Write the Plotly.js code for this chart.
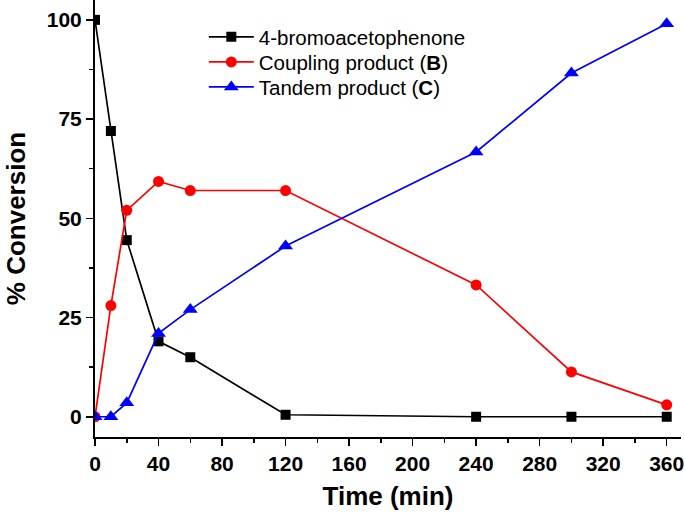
<!DOCTYPE html>
<html><head><meta charset="utf-8">
<script src="https://cdn.plot.ly/plotly-3.0.1.min.js"></script>
<style>html,body{margin:0;padding:0;background:#fff}#chart{width:685px;height:520px}</style>
</head><body><div id="chart"></div>
<script>
const time = [0, 10, 20, 40, 60, 120, 240, 300, 360];
const bromo = [100, 72, 44.5, 19, 15, 0.5, 0, 0, 0];
const coupling = [0, 28, 52, 59.3, 57, 57, 33.2, 11.3, 3];
const tandem = [0, 0, 3.5, 21, 27, 43, 66.7, 86.6, 99];
const names = ['4-bromoacetophenone', 'Coupling product (<b>B</b>)', 'Tandem product (<b>C</b>)'];
const xTicks = [0, 40, 80, 120, 160, 200, 240, 280, 320, 360];
const yTicks = [0, 25, 50, 75, 100];

const traces = [
  {x: time, y: bromo, name: names[0], mode: 'lines+markers', legend: 'legend',
   line: {color: '#000000', width: 1.7}, marker: {symbol: 'square', size: 10, color: '#000000'}},
  {x: time, y: coupling, name: names[1], mode: 'lines+markers', legend: 'legend2',
   line: {color: '#ff0000', width: 1.7}, marker: {symbol: 'circle', size: 11, color: '#ff0000'}},
  {x: time, y: tandem, name: names[2], mode: 'lines+markers', legend: 'legend3',
   line: {color: '#0000ff', width: 1.7}, marker: {symbol: 'triangle-up', size: 13, color: '#0000ff'}}
];

const fam = 'Liberation Sans, Arial, sans-serif';
const tickFont = {family: fam, size: 21, color: '#000', weight: 'bold'};
function leg(y) {
  return {x: 0.1857, y: y, xanchor: 'left', yanchor: 'middle', bgcolor: 'rgba(0,0,0,0)',
    font: {family: fam, size: 20.5, color: '#000'}, itemwidth: 45};
}
const layout = {
  width: 685, height: 520,
  margin: {l: 94.5, r: 4, t: 0, b: 83},
  paper_bgcolor: '#fff', plot_bgcolor: '#fff',
  showlegend: true,
  legend: leg(0.9153), legend2: leg(0.858), legend3: leg(0.8008),
  xaxis: {range: [0, 369], tickvals: xTicks, ticktext: xTicks.map(String),
    ticks: 'outside', ticklen: 7, tickwidth: 1.5, tickcolor: '#000',
    minor: {dtick: 20, tick0: 0, ticks: 'outside', ticklen: 4, tickwidth: 1.5, tickcolor: '#000'},
    showline: true, linecolor: '#000', linewidth: 2, showgrid: false, zeroline: false,
    tickfont: tickFont,
    title: {text: 'Time (min)', font: {family: fam, size: 26, color: '#000', weight: 'bold'}, standoff: 13}},
  yaxis: {range: [-5.1, 105], tickvals: yTicks, ticktext: yTicks.map(String),
    ticks: 'outside', ticklen: 7, tickwidth: 1.5, tickcolor: '#000',
    minor: {dtick: 12.5, tick0: 0, ticks: 'outside', ticklen: 4, tickwidth: 1.5, tickcolor: '#000'},
    showline: true, linecolor: '#000', linewidth: 2, showgrid: false, zeroline: false,
    tickfont: tickFont,
    title: {text: '% Conversion', font: {family: fam, size: 26, color: '#000', weight: 'bold'}, standoff: 14}}
};
Plotly.newPlot('chart', traces, layout, {displayModeBar: false, staticPlot: true});
</script></body></html>
